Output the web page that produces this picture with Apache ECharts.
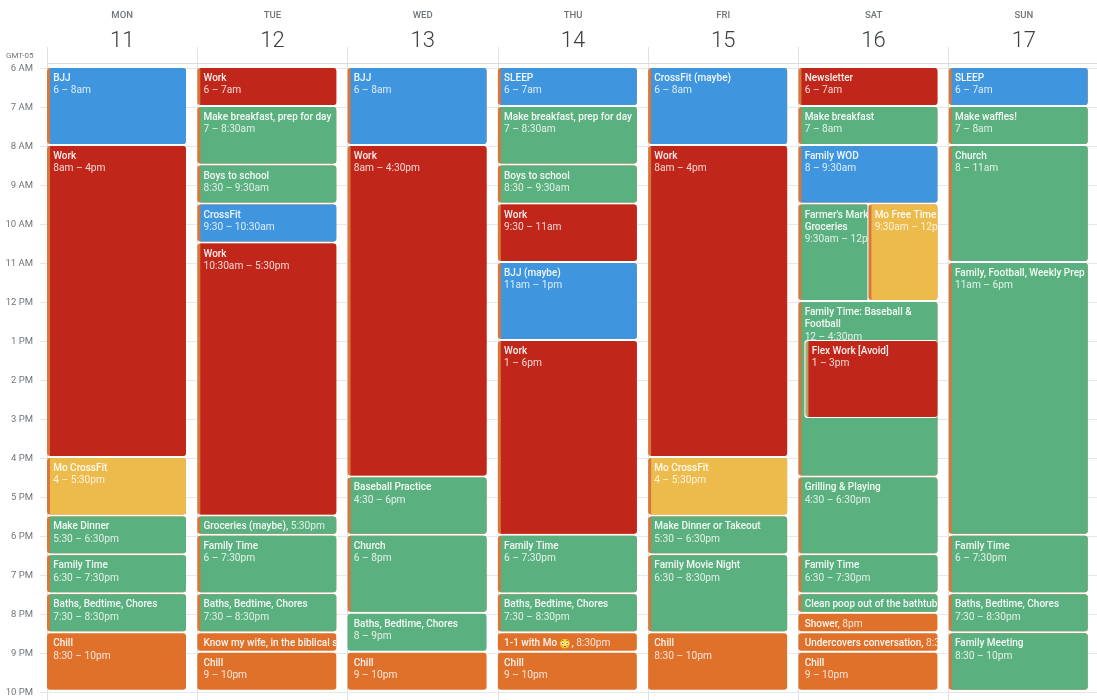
<!DOCTYPE html>
<html>
<head>
<meta charset="utf-8">
<title>Week calendar</title>
<script src="https://cdn.jsdelivr.net/npm/echarts@6/dist/echarts.min.js"></script>
<style>
  html, body { margin: 0; padding: 0; background: #fff; }
  #calendar-container { width: 1097px; height: 700px; }
</style>
</head>
<body>
<div id="calendar-container"></div>
<script>
var blue = '#3f96df', red = '#c1261a', green = '#5bb07f', yellow = '#edbb4b', orange = '#e0712b';
var stripColor = '#d9773a';

var days = ['MON 11', 'TUE 12', 'WED 13', 'THU 14', 'FRI 15', 'SAT 16', 'SUN 17'];

// day, start, end, title, time, colour, strip on the left, extra options
var events = [
  [0, 6, 8, 'BJJ', '6 – 8am', blue, true],
  [0, 8, 16, 'Work', '8am – 4pm', red, true],
  [0, 16, 17.5, 'Mo CrossFit', '4 – 5:30pm', yellow, true],
  [0, 17.5, 18.5, 'Make Dinner', '5:30 – 6:30pm', green, true],
  [0, 18.5, 19.5, 'Family Time', '6:30 – 7:30pm', green, true],
  [0, 19.5, 20.5, 'Baths, Bedtime, Chores', '7:30 – 8:30pm', green, true],
  [0, 20.5, 22, 'Chill', '8:30 – 10pm', orange, false],

  [1, 6, 7, 'Work', '6 – 7am', red, true],
  [1, 7, 8.5, 'Make breakfast, prep for day', '7 – 8:30am', green, true],
  [1, 8.5, 9.5, 'Boys to school', '8:30 – 9:30am', green, true],
  [1, 9.5, 10.5, 'CrossFit', '9:30 – 10:30am', blue, true],
  [1, 10.5, 17.5, 'Work', '10:30am – 5:30pm', red, true],
  [1, 17.5, 18, 'Groceries (maybe),', '5:30pm', green, true, {oneLine: true}],
  [1, 18, 19.5, 'Family Time', '6 – 7:30pm', green, true],
  [1, 19.5, 20.5, 'Baths, Bedtime, Chores', '7:30 – 8:30pm', green, true],
  [1, 20.5, 21, 'Know my wife, in the biblical sense,', '8:30pm', orange, false, {oneLine: true}],
  [1, 21, 22, 'Chill', '9 – 10pm', orange, false],

  [2, 6, 8, 'BJJ', '6 – 8am', blue, true],
  [2, 8, 16.5, 'Work', '8am – 4:30pm', red, true],
  [2, 16.5, 18, 'Baseball Practice', '4:30 – 6pm', green, true],
  [2, 18, 20, 'Church', '6 – 8pm', green, true],
  [2, 20, 21, 'Baths, Bedtime, Chores', '8 – 9pm', green, false],
  [2, 21, 22, 'Chill', '9 – 10pm', orange, false],

  [3, 6, 7, 'SLEEP', '6 – 7am', blue, true],
  [3, 7, 8.5, 'Make breakfast, prep for day', '7 – 8:30am', green, true],
  [3, 8.5, 9.5, 'Boys to school', '8:30 – 9:30am', green, true],
  [3, 9.5, 11, 'Work', '9:30 – 11am', red, true],
  [3, 11, 13, 'BJJ (maybe)', '11am – 1pm', blue, true],
  [3, 13, 18, 'Work', '1 – 6pm', red, true],
  [3, 18, 19.5, 'Family Time', '6 – 7:30pm', green, true],
  [3, 19.5, 20.5, 'Baths, Bedtime, Chores', '7:30 – 8:30pm', green, true],
  [3, 20.5, 21, '1-1 with Mo ', '8:30pm', orange, false, {oneLine: true, emoji: '😳'}],
  [3, 21, 22, 'Chill', '9 – 10pm', orange, false],

  [4, 6, 8, 'CrossFit (maybe)', '6 – 8am', blue, true],
  [4, 8, 16, 'Work', '8am – 4pm', red, true],
  [4, 16, 17.5, 'Mo CrossFit', '4 – 5:30pm', yellow, true],
  [4, 17.5, 18.5, 'Make Dinner or Takeout', '5:30 – 6:30pm', green, true],
  [4, 18.5, 20.5, 'Family Movie Night', '6:30 – 8:30pm', green, true],
  [4, 20.5, 22, 'Chill', '8:30 – 10pm', orange, false],

  [5, 6, 7, 'Newsletter', '6 – 7am', red, true],
  [5, 7, 8, 'Make breakfast', '7 – 8am', green, true],
  [5, 8, 9.5, 'Family WOD', '8 – 9:30am', blue, true],
  [5, 9.5, 12, "Farmer's Market,\nGroceries", '9:30am – 12pm', green, true, {width: 70}],
  [5, 9.5, 12, 'Mo Free Time', '9:30am – 12pm', yellow, true, {offset: 70, width: 69, border: true}],
  [5, 12, 16.5, 'Family Time: Baseball &\nFootball', '12 – 4:30pm', green, true],
  [5, 13, 15, 'Flex Work [Avoid]', '1 – 3pm', red, true, {offset: 7, width: 132, border: true, strip: '#b3a468'}],
  [5, 16.5, 18.5, 'Grilling & Playing', '4:30 – 6:30pm', green, true],
  [5, 18.5, 19.5, 'Family Time', '6:30 – 7:30pm', green, true],
  [5, 19.5, 20, 'Clean poop out of the bathtub,', '7:30pm', green, true, {oneLine: true}],
  [5, 20, 20.5, 'Shower,', '8pm', orange, false, {oneLine: true}],
  [5, 20.5, 21, 'Undercovers conversation,', '8:30pm', orange, false, {oneLine: true}],
  [5, 21, 22, 'Chill', '9 – 10pm', orange, false],

  [6, 6, 7, 'SLEEP', '6 – 7am', blue, true],
  [6, 7, 8, 'Make waffles!', '7 – 8am', green, true],
  [6, 8, 11, 'Church', '8 – 11am', green, true],
  [6, 11, 18, 'Family, Football, Weekly Prep', '11am – 6pm', green, true],
  [6, 18, 19.5, 'Family Time', '6 – 7:30pm', green, true],
  [6, 19.5, 20.5, 'Baths, Bedtime, Chores', '7:30 – 8:30pm', green, true],
  [6, 20.5, 22, 'Family Meeting', '8:30 – 10pm', green, true]
];

var hours = [6, 7, 8, 9, 10, 11, 12, 13, 14, 15, 16, 17, 18, 19, 20, 21, 22];

function hourLabel(h) {
  if (h < 12) return h + ' AM';
  return (h === 12 ? 12 : h - 12) + ' PM';
}

function eventText(ev) {
  var opts = ev[7] || {};
  var title = ev[3].split('\n').map(function (t) { return '{a|' + t + '}'; }).join('\n');
  if (opts.emoji) title += '{e|' + opts.emoji + '}{a|,}';
  if (opts.oneLine) return title + '{b| ' + ev[4] + '}';
  return title + '\n{b|' + ev[4] + '}';
}

function renderEvent(params, api) {
  var ev = events[params.dataIndex];
  var opts = ev[7] || {};
  var band = api.size([1, 0])[0];
  var start = api.coord([api.value(0), api.value(1)]);
  var end = api.coord([api.value(0), api.value(2)]);
  var x = start[0] - band / 2 + (opts.offset || 0);
  var y = start[1];
  var w = opts.width || 139;
  var h = end[1] - start[1] - 2;
  var stripW = ev[6] ? 3 : 0;
  var children = [];

  if (opts.border) {
    children.push({
      type: 'rect',
      shape: {x: x - 1, y: y - 1, width: w + 1, height: h + 2, r: 3},
      style: {fill: '#fff'}
    });
  }
  if (ev[6]) {
    children.push({
      type: 'rect',
      shape: {x: x, y: y, width: w, height: h, r: 3},
      style: {fill: opts.strip || stripColor}
    });
  }
  children.push({
    type: 'rect',
    shape: {x: x + stripW, y: y, width: w - stripW, height: h, r: ev[6] ? [0, 3, 3, 0] : 3},
    style: {fill: ev[5]}
  });
  children.push({
    type: 'text',
    clipPath: {type: 'rect', shape: {x: x, y: y, width: w, height: h}},
    style: {
      x: x + 6.2,
      y: y + 4.4,
      text: eventText(ev),
      verticalAlign: 'top',
      align: 'left',
      rich: {
        a: {fontFamily: 'Roboto', fontSize: 10, fontWeight: 500, lineHeight: 12.3, fill: 'rgba(255,255,255,0.93)', color: 'rgba(255,255,255,0.93)'},
        b: {fontFamily: 'Roboto', fontSize: 10.2, fontWeight: 400, lineHeight: 12.3, fill: 'rgba(255,255,255,0.82)', color: 'rgba(255,255,255,0.82)'},
        e: {fontFamily: 'Noto Color Emoji', fontSize: 9.5, lineHeight: 12.3, fill: '#f2c63f', color: '#f2c63f'}
      }
    }
  });
  return {type: 'group', children: children};
}

var option = {
  animation: false,
  backgroundColor: '#fff',
  title: {
    text: 'GMT-05',
    left: 1,
    top: 47,
    textStyle: {fontFamily: 'Roboto', fontSize: 8, fontWeight: 400, color: '#70757a'}
  },
  grid: {left: 47, width: 1052, top: 47, height: 653, outerBoundsMode: 'none'},
  xAxis: {
    type: 'category',
    position: 'top',
    data: days,
    axisLine: {show: false},
    axisTick: {show: false},
    splitLine: {show: true, interval: 0, lineStyle: {color: '#dfe1e5', width: 1}},
    axisLabel: {
      interval: 0,
      margin: -2,
      formatter: function (value) {
        var parts = value.split(' ');
        return '{d|' + parts[0] + '}\n{n|' + parts[1] + '}';
      },
      rich: {
        d: {fontFamily: 'Roboto', fontSize: 9.5, fontWeight: 500, color: '#70757a', lineHeight: 34, align: 'center'},
        n: {fontFamily: 'Roboto', fontSize: 22, fontWeight: 300, color: '#3c4043', lineHeight: 16, align: 'center'}
      }
    }
  },
  yAxis: {
    type: 'value',
    inverse: true,
    min: 5.46,
    max: 22.21,
    axisLine: {show: false},
    axisTick: {show: true, length: 7, customValues: hours, lineStyle: {color: '#e3e5e8'}},
    splitLine: {show: true, lineStyle: {color: '#e6e8ec', width: 1}},
    axisLabel: {
      margin: 14,
      customValues: hours,
      fontFamily: 'Roboto',
      fontSize: 9.5,
      color: '#70757a',
      verticalAlign: 'top',
      verticalAlignMinLabel: 'top',
      verticalAlignMaxLabel: 'top',
      padding: [-4, 0, 0, 0],
      formatter: function (value) { return hourLabel(value); }
    }
  },
  series: [{
    type: 'custom',
    renderItem: renderEvent,
    encode: {x: 0, y: [1, 2]},
    data: events.map(function (ev) { return [ev[0], ev[1], ev[2]]; }),
    markLine: {
      silent: true,
      symbol: 'none',
      label: {show: false},
      lineStyle: {color: '#dadce0', width: 1, type: 'solid'},
      data: [{yAxis: 5.885}]
    }
  }]
};

var calendarChart = echarts.init(document.getElementById('calendar-container'));
calendarChart.setOption(option);
</script>
</body>
</html>
